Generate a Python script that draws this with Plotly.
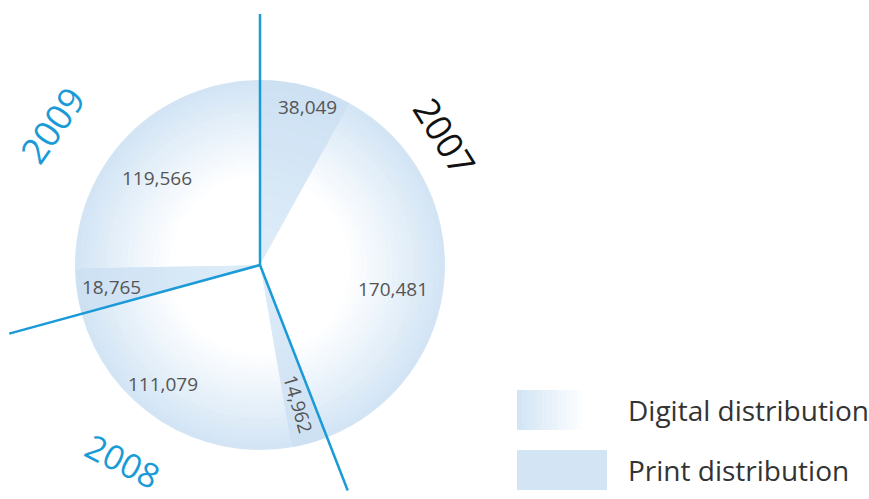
import math
import plotly.graph_objects as go

# ---- data ----
years = ["2007", "2007", "2008", "2008", "2009", "2009"]
kinds = ["Print distribution", "Digital distribution",
         "Print distribution", "Digital distribution",
         "Print distribution", "Digital distribution"]
values = [38049, 170481, 14962, 111079, 18765, 119566]
value_labels = ["38,049", "170,481", "14,962", "111,079", "18,765", "119,566"]
legend_labels = ["Digital distribution", "Print distribution"]
year_labels = ["2007", "2008", "2009"]

# ---- layout constants ----
W, H = 869, 499
CX, CY, R = 260, 265, 185
LINE_LEN = [251, 242, 260]
BLUE = "#1a9bd7"
FONT = "Open Sans"

def mix(c1, c2, t):
    a = [int(c1[i:i + 2], 16) for i in (1, 3, 5)]
    b = [int(c2[i:i + 2], 16) for i in (1, 3, 5)]
    return "#" + "".join(f"{round(a[k] + (b[k] - a[k]) * t):02x}" for k in range(3))

DIG_EDGE, DIG_CENTER = "#d3e5f5", "#ffffff"
PRN_EDGE, PRN_CENTER = "#cde1f3", "#dcebf8"

fig = go.Figure()

# layered pies to emulate the radial gradient
N = 30
for i in range(N):
    frac = 1 - i / N * 0.85
    t = min(1.0, (i / (N - 1)) * 1.6)
    r = R * frac
    dcol = mix(DIG_EDGE, DIG_CENTER, t)
    pcol = mix(PRN_EDGE, PRN_CENTER, min(1.0, i / (N - 1)))
    colors = [pcol if k.startswith("Print") else dcol for k in kinds]
    fig.add_trace(go.Pie(
        values=values, labels=[f"{y} {k}" for y, k in zip(years, kinds)],
        sort=False, direction="clockwise", rotation=0,
        marker=dict(colors=colors, line=dict(width=0)),
        textinfo="none", hoverinfo="skip", showlegend=False,
        domain=dict(x=[(CX - r) / W, (CX + r) / W],
                    y=[(H - CY - r) / H, (H - CY + r) / H]),
    ))

# dummy scatter to activate cartesian axes in pixel space
fig.add_trace(go.Scatter(x=[0, W], y=[0, H], mode="markers",
                         marker=dict(opacity=0), hoverinfo="skip", showlegend=False))

total = sum(values)
cum = [0]
for v in values:
    cum.append(cum[-1] + v)

def pt(angle_deg, rad):
    a = math.radians(angle_deg)
    return CX + rad * math.sin(a), CY - rad * math.cos(a)

# year boundary lines (start of 2007, 2008, 2009)
shapes = []
for j, idx in enumerate([0, 2, 4]):
    ang = cum[idx] / total * 360
    x1, y1 = pt(ang, LINE_LEN[j])
    shapes.append(dict(type="line", xref="x", yref="y", x0=CX, y0=CY, x1=x1, y1=y1,
                       line=dict(color=BLUE, width=2.5)))

# value labels
rad_frac = [0.89, 0.73, 0.78, 0.83, 0.81, 0.73]
ang_off = [2.4, 6.3, 0.4, 6.8, -0.3, -4.5]
text_ang = [0, 0, 74, 0, 0, 0]
annotations = []
for k, v in enumerate(values):
    mid = (cum[k] + v / 2) / total * 360 + ang_off[k]
    x, y = pt(mid, R * rad_frac[k])
    annotations.append(dict(x=x, y=y, xref="x", yref="y", text=value_labels[k],
                            showarrow=False, textangle=text_ang[k],
                            font=dict(family=FONT, size=19, color="#555555")))

# year labels
year_pos = [(445, 136, 58, "#111111", 36), (123, 461, 27, BLUE, 34), (52, 125, -55, BLUE, 36)]
for lab, (x, y, a, c, fs) in zip(year_labels, year_pos):
    annotations.append(dict(x=x, y=y, xref="x", yref="y", text=lab, showarrow=False,
                            textangle=a, font=dict(family=FONT, size=fs, color=c)))

# legend: gradient box for digital, solid for print
LX0, LX1 = 517, 607
boxes_y = [(390, 430), (450, 490)]
steps = 18
for s in range(steps):
    t = s / (steps - 1)
    col = mix("#d3e5f5", "#ffffff", min(1.0, t * 1.3))
    x0 = LX0 + (LX1 - LX0) * s / steps
    x1 = LX0 + (LX1 - LX0) * (s + 1) / steps + 0.5
    shapes.append(dict(type="rect", xref="x", yref="y", x0=x0, x1=x1,
                       y0=boxes_y[0][0], y1=boxes_y[0][1],
                       fillcolor=col, line=dict(width=0), layer="below"))
shapes.append(dict(type="rect", xref="x", yref="y", x0=LX0, x1=LX1,
                   y0=boxes_y[1][0], y1=boxes_y[1][1],
                   fillcolor="#d3e5f5", line=dict(width=0), layer="below"))
for lab, (y0, y1) in zip(legend_labels, boxes_y):
    annotations.append(dict(x=626, y=(y0 + y1) / 2, xref="x", yref="y", text=lab,
                            showarrow=False, xanchor="left", yanchor="middle",
                            font=dict(family=FONT, size=28, color="#333333")))

fig.update_layout(
    width=W, height=H, margin=dict(l=0, r=0, t=0, b=0),
    paper_bgcolor="white", plot_bgcolor="rgba(0,0,0,0)",
    xaxis=dict(range=[0, W], visible=False, fixedrange=True),
    yaxis=dict(range=[H, 0], visible=False, fixedrange=True),
    shapes=shapes, annotations=annotations, showlegend=False,
)

fig.write_html("out.html")
